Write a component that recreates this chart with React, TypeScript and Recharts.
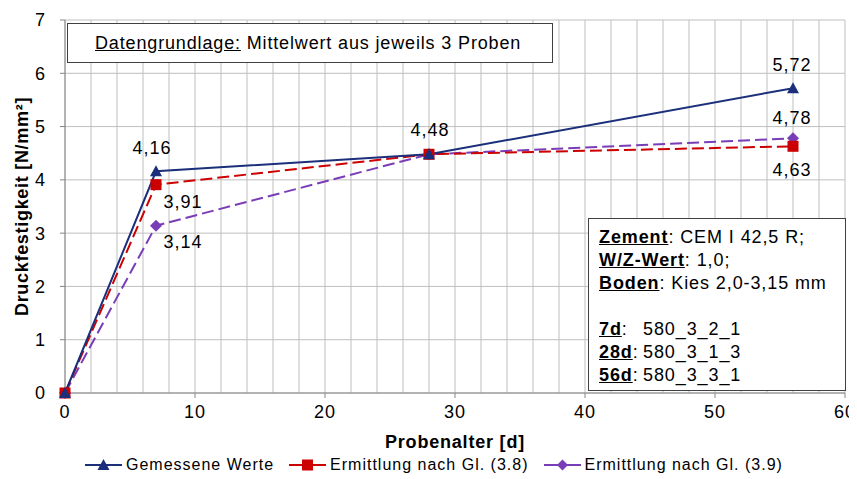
import React from 'react';
import {
    LineChart,
    Line,
    XAxis,
    YAxis,
    CartesianGrid,
    Legend,
    LabelList,
    Label,
} from 'recharts';

const FONT = '"Liberation Sans", Arial, sans-serif';

// Probenalter in Tagen
const ages = [0, 7, 28, 56];
const gemessen = [0, 4.16, 4.48, 5.72];
const gl38 = [0, 3.91, 4.48, 4.63];
const gl39 = [0, 3.14, 4.48, 4.78];

const xTicks = [0, 10, 20, 30, 40, 50, 60];
const yTicks = [0, 1, 2, 3, 4, 5, 6, 7];

// label offsets per point (dx, dy), null = no label
const labelsGemessen = [null, [-4, -17], [1, -18], [-1, -17]];
const labels38 = [null, [27, 23], null, [-1, 30]];
const labels39 = [null, [27, 22], null, [-1, -14]];

const NAVY = '#1B2F7A';
const RED = '#CC0000';
const PURPLE = '#7A3DB8';

const data = ages.map((a, i) => ({
    age: a,
    gemessen: gemessen[i],
    gl38: gl38[i],
    gl39: gl39[i],
}));

const fmt = (v: number) => v.toFixed(2).replace('.', ',');

function makeLabel(offsets: any[]) {
    return (props: any) => {
        const { x, y, value, index } = props;
        const o = offsets[index];
        if (!o) return null;
        return (
            <text
                x={x + o[0]}
                y={y + o[1]}
                textAnchor="middle"
                fontSize={18}
                fill="#000"
                fontFamily={FONT}
                style={{ letterSpacing: 1 }}
            >
                {fmt(value)}
            </text>
        );
    };
}

const Triangle = (props: any) => {
    const { cx, cy } = props;
    if (cx == null) return null;
    return <path d={`M${cx},${cy - 6} L${cx + 6},${cy + 5} L${cx - 6},${cy + 5} Z`} fill={NAVY} />;
};
const Square = (props: any) => {
    const { cx, cy } = props;
    if (cx == null) return null;
    return <rect x={cx - 5.5} y={cy - 5.5} width={11} height={11} fill={RED} />;
};
const Diamond = (props: any) => {
    const { cx, cy } = props;
    if (cx == null) return null;
    return <path d={`M${cx},${cy - 6} L${cx + 6},${cy} L${cx},${cy + 6} L${cx - 6},${cy} Z`} fill={PURPLE} />;
};

const legendItems = [
    { name: 'Gemessene Werte', color: NAVY, shape: 'tri' },
    { name: 'Ermittlung nach Gl. (3.8)', color: RED, shape: 'sq' },
    { name: 'Ermittlung nach Gl. (3.9)', color: PURPLE, shape: 'dia' },
];

const LegendContent = () => (
    <div
        style={{
            height: 28, display: 'flex', alignItems: 'center', fontFamily: FONT,
            fontSize: 16, letterSpacing: 1, color: '#000', paddingLeft: 77,
        }}
    >
        {legendItems.map((it) => (
            <div key={it.name} style={{ display: 'flex', alignItems: 'center', marginRight: 15 }}>
                <svg width={37} height={14} style={{ marginRight: 4 }}>
                    <line x1={0} y1={7} x2={37} y2={7} stroke={it.color} strokeWidth={2} />
                    {it.shape === 'tri' && <path d="M18.5,1 L24.5,12 L12.5,12 Z" fill={it.color} />}
                    {it.shape === 'sq' && <rect x={13} y={1.5} width={11} height={11} fill={it.color} />}
                    {it.shape === 'dia' && <path d="M18.5,1.5 L24,7 L18.5,12.5 L13,7 Z" fill={it.color} />}
                </svg>
                <span>{it.name}</span>
            </div>
        ))}
    </div>
);

const u = { textDecoration: 'underline' } as const;
const bu = { textDecoration: 'underline', fontWeight: 700 } as const;
const tickStyle = { fill: '#000', fontSize: 18, fontFamily: FONT, letterSpacing: 1 };

export default function App() {
    return (
        <div style={{ position: 'relative', width: 849, height: 471, fontFamily: FONT, background: '#fff' }}>
            <LineChart width={849} height={471} data={data} margin={{ top: 12, right: 12, left: 0, bottom: 0 }}>
                <CartesianGrid
                    stroke="#BFBFBF"
                    verticalCoordinatesGenerator={(p: any) => {
                        const off = p.offset;
                        const pts: number[] = [];
                        for (let i = 0; i <= 30; i++) pts.push(off.left + (i * off.width) / 30);
                        return pts;
                    }}
                />
                <XAxis
                    dataKey="age"
                    type="number"
                    domain={[0, 60]}
                    ticks={xTicks}
                    height={58}
                    stroke="#868686"
                    tick={tickStyle}
                    tickSize={5}
                    tickMargin={7}
                >
                    <Label
                        value="Probenalter [d]"
                        position="insideBottom"
                        offset={3}
                        style={{ fontWeight: 700, fontSize: 18, fill: '#000', fontFamily: FONT, letterSpacing: 0.8 }}
                    />
                </XAxis>
                <YAxis
                    type="number"
                    domain={[0, 7]}
                    ticks={yTicks}
                    width={57}
                    stroke="#868686"
                    tick={tickStyle}
                    tickSize={5}
                    tickMargin={14}
                >
                    <Label
                        value="Druckfestigkeit [N/mm²]"
                        angle={-90}
                        position="insideLeft"
                        offset={14}
                        style={{ textAnchor: 'middle', fontWeight: 700, fontSize: 18, fill: '#000', fontFamily: FONT, letterSpacing: 0.7 }}
                    />
                </YAxis>
                <Legend verticalAlign="bottom" content={<LegendContent />} />
                <Line dataKey="gl39" stroke={PURPLE} strokeWidth={2} strokeDasharray="12 5" dot={<Diamond />} isAnimationActive={false}>
                    <LabelList dataKey="gl39" content={makeLabel(labels39)} />
                </Line>
                <Line dataKey="gl38" stroke={RED} strokeWidth={2} strokeDasharray="12 5" dot={<Square />} isAnimationActive={false}>
                    <LabelList dataKey="gl38" content={makeLabel(labels38)} />
                </Line>
                <Line dataKey="gemessen" stroke={NAVY} strokeWidth={2} dot={<Triangle />} isAnimationActive={false}>
                    <LabelList dataKey="gemessen" content={makeLabel(labelsGemessen)} />
                </Line>
            </LineChart>
            <div
                style={{
                    position: 'absolute', left: 59, top: 15, width: 486, height: 40,
                    border: '1px solid #404040', background: '#fff', fontSize: 18, letterSpacing: 0.85,
                    display: 'flex', alignItems: 'center', paddingLeft: 27, boxSizing: 'border-box',
                }}
            >
                <span style={u}>Datengrundlage:</span>&nbsp;Mittelwert aus jeweils 3 Proben
            </div>
            <div
                style={{
                    position: 'absolute', left: 580, top: 210, width: 258, height: 173,
                    border: '1px solid #404040', background: '#fff', fontSize: 18, letterSpacing: 0.9,
                    lineHeight: '23px', padding: '7px 0 0 10px', boxSizing: 'border-box', whiteSpace: 'nowrap',
                }}
            >
                <div><span style={bu}>Zement</span>: CEM I 42,5 R;</div>
                <div><span style={bu}>W/Z-Wert</span>: 1,0;</div>
                <div><span style={bu}>Boden</span>: Kies 2,0-3,15 mm</div>
                <div>&nbsp;</div>
                <div><span style={{ display: 'inline-block', width: 44 }}><span style={bu}>7d</span>:</span>580_3_2_1</div>
                <div><span style={{ display: 'inline-block', width: 44 }}><span style={bu}>28d</span>:</span>580_3_1_3</div>
                <div><span style={{ display: 'inline-block', width: 44 }}><span style={bu}>56d</span>:</span>580_3_3_1</div>
            </div>
        </div>
    );
}
